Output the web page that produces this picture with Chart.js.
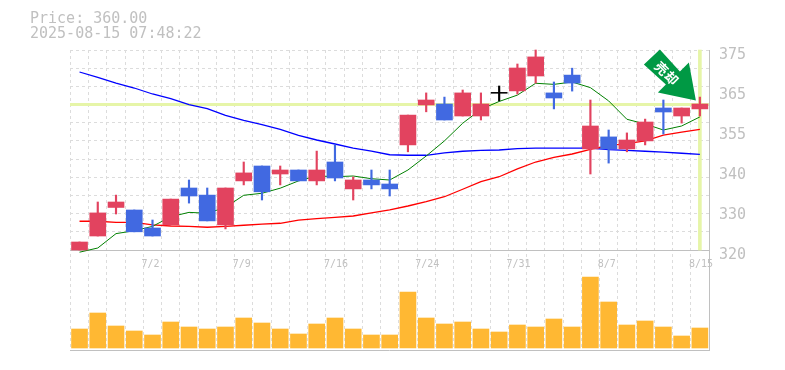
<!DOCTYPE html>
<html>
<head>
<meta charset="utf-8">
<title>Price chart</title>
<script src="https://cdn.jsdelivr.net/npm/chart.js@4/dist/chart.umd.min.js"></script>
<style>
  html, body { margin: 0; padding: 0; background: #fff; }
  #wrap { position: relative; width: 785px; height: 370px; }
  #info { position: absolute; left: 30px; top: 11px; font: 15px/15px "DejaVu Sans Mono", monospace; color: #c0c0c0; white-space: pre; }
</style>
</head>
<body>
<div id="wrap">
  <div id="info">Price: 360.00
2025-08-15 07:48:22</div>
  <canvas id="graph" width="785" height="370"></canvas>
</div>
<script>
const dates = ["6/26","6/27","6/30","7/1","7/2","7/3","7/4","7/7","7/8","7/9","7/10","7/11","7/14","7/15","7/16","7/17","7/18","7/22","7/23","7/24","7/25","7/28","7/29","7/30","7/31","8/1","8/4","8/5","8/6","8/7","8/8","8/12","8/13","8/14","8/15"];
// only these dates are written on the axis
const shownDates = ["7/2","7/9","7/16","7/24","7/31","8/7","8/15"];

const opens  = [320,323.85,331.7,331,326.05,326.9,337.05,335.1,326.9,339,343.1,340.9,342,339,344.2,336.8,339.25,338.15,348.9,359.9,360.15,356.85,356.85,363.1,363.75,367.85,363.2,368.1,347.8,351.1,347.8,350,359.05,356.85,358.8];
const closes = [322.2,330.2,333.2,325,323.85,334,334.85,328,337.05,341.2,336,342,339,342,339.8,339.25,337.9,336.8,357.1,361.25,355.75,363.2,360.15,363.35,370.05,373.1,361.8,365.9,354.1,347.8,350.25,355.2,357.95,359.05,360.15];
const highs  = [322.2,333.2,335.1,331,328.25,334,339.25,337.05,337.05,344.2,343.1,343.1,342,347.2,348.9,340.1,342,342,357.1,363.2,362.05,364,363.2,365.1,371.15,375,366.2,370,361.25,353,352.2,356,361.25,359.05,362.05];
const lows   = [320,323.85,329.9,325,323.85,326.9,332.9,328,325.8,337.9,333.75,337.9,339,337.9,339,333.75,336.8,334.85,347,358,355.75,356.85,355.75,361,362.9,365.9,358.8,363.7,340.9,343.9,347,348.9,351.9,354.9,356.85];
const volumes = [19,35,22,17,13,26,21,19,21,30,25,19,14,24,30,19,13,13,56,30,24,26,19,16,23,21,29,21,71,46,23,27,21,12,20];

const maLong  = [368.95,367.45,365.9,364.55,362.9,361.65,360,358.85,357,355.65,354.5,353.15,351.5,350.25,349.15,348,347.2,346.2,346.05,346.05,346.7,347.15,347.4,347.5,347.9,348,348,348,348,347.6,347.4,347.15,346.9,346.6,346.3];
const maMid   = [327.9,327.9,327.6,327.6,326.9,326.6,326.5,326.25,326.5,326.8,327.1,327.35,328.2,328.65,328.95,329.35,330.2,331.05,332.1,333.3,334.65,336.7,338.8,340.15,342.3,344.2,345.5,346.4,347.7,348.7,349.25,350,351.6,352.4,353.2];
const maShort = [319.4,320.55,324.5,325.3,326.5,329.15,330.35,330.1,331.75,335.05,335.6,337,339,340.4,340.15,340.35,339.6,339.25,342,345.85,350,354.85,358.7,360.85,362.6,365.85,365.55,366.2,364.65,361,355.95,354.65,353,354.1,356.6];

const currentPrice = 360;
const priceTop = 375;
const priceBottom = 320;
// the picture prints rounded numbers next to these evenly spaced positions
const tickValues = [375,364,353,342,331,320];
const tickLabels = ["375","365","355","340","330","320"];

const gridColor = "#dcdcdc";
const axisColor = "#c0c0c0";
const lineYellow = "#e6f5a8";
const upColor = "#e2435f";
const downColor = "#4169e1";
const flatColor = "#000000";

function candleColor(i) {
    if (closes[i] - opens[i] < 0.5 && closes[i] - opens[i] > 0) return flatColor
    return closes[i] >= opens[i] ? upColor : downColor
}

const candleColors = dates.map((d, i) => candleColor(i));
const bodies = dates.map((d, i) => [opens[i], closes[i]]);
const wicks = dates.map((d, i) => [lows[i], highs[i]]);
const cursor = dates.map((d, i) => i == dates.length - 1 ? [priceBottom, priceTop] : null);

// green sign sitting on the last candle, offsets are from the arrow tip
const arrowSign = {
    id: "arrowSign",
    afterDatasetsDraw(chart) {
        const ctx = chart.ctx;
        const tipX = chart.scales.x.getPixelForValue(dates.length - 1) - 4;
        const tipY = chart.scales.y.getPixelForValue(currentPrice) - 4;
        ctx.save();
        ctx.fillStyle = "#009944";
        ctx.beginPath();
        ctx.moveTo(tipX, tipY);
        ctx.lineTo(tipX - 38, tipY - 8);
        ctx.lineTo(tipX - 30, tipY - 16);
        ctx.lineTo(tipX - 52, tipY - 36);
        ctx.lineTo(tipX - 36, tipY - 51);
        ctx.lineTo(tipX - 16, tipY - 29);
        ctx.lineTo(tipX - 7, tipY - 38);
        ctx.closePath();
        ctx.fill();
        ctx.translate(tipX - 29, tipY - 27);
        ctx.rotate(Math.PI / 4);
        ctx.fillStyle = "#ffffff";
        ctx.font = "bold 13px 'Noto Sans CJK JP'";
        ctx.letterSpacing = "1px";
        ctx.textAlign = "center";
        ctx.textBaseline = "middle";
        ctx.fillText("売却", 0, 0);
        ctx.restore();
    }
};

new Chart("graph", {
    data: {
        labels: dates,
        datasets: [
            { type: "bar", data: cursor, backgroundColor: lineYellow, barThickness: 3, grouped: false, yAxisID: "y", order: 9 },
            { type: "bar", data: volumes, backgroundColor: "#ffb833", barThickness: 16, grouped: false, yAxisID: "vol", order: 8 },
            { type: "line", data: maLong, borderColor: "#0000ff", borderWidth: 1.3, pointRadius: 0, tension: 0, yAxisID: "y", order: 7 },
            { type: "line", data: maMid, borderColor: "#ff0000", borderWidth: 1.3, pointRadius: 0, tension: 0, yAxisID: "y", order: 6 },
            { type: "line", data: maShort, borderColor: "#008000", borderWidth: 1, pointRadius: 0, tension: 0, yAxisID: "y", order: 5 },
            { type: "bar", data: wicks, backgroundColor: candleColors, barThickness: 1.5, grouped: false, yAxisID: "y", order: 4 },
            { type: "bar", data: bodies, backgroundColor: candleColors, barThickness: 16, grouped: false, yAxisID: "y", order: 3 }
        ]
    },
    options: {
        responsive: false,
        animation: false,
        events: [],
        layout: { padding: { left: 70.4, right: 0, top: 50, bottom: 20 } },
        plugins: { legend: { display: false }, tooltip: { enabled: false } },
        clip: false,
        scales: {
            x: {
                type: "category",
                offset: true,
                position: { y: priceBottom },
                grid: { offset: true, color: gridColor, lineWidth: 1, drawTicks: false },
                border: { color: axisColor, dash: [3, 3], display: true },
                ticks: {
                    autoSkip: false,
                    maxRotation: 0,
                    align: "start",
                    labelOffset: -11,
                    padding: 8,
                    color: axisColor,
                    font: { family: "'DejaVu Sans Mono', monospace", size: 10 },
                    callback(value) {
                        const d = this.getLabelForValue(value);
                        return shownDates.includes(d) ? d : "";
                    }
                }
            },
            y: {
                position: "left",
                min: 292.5,
                max: priceTop,
                afterFit(scale) { scale.width = 0; },
                afterBuildTicks(scale) {
                    scale.ticks = [];
                    for (let v = priceBottom + 5; v <= priceTop; v += 5) scale.ticks.push({ value: v });
                },
                grid: {
                    drawTicks: false,
                    lineWidth: ctx => ctx.tick.value == currentPrice ? 3 : 1,
                    color: ctx => ctx.tick.value == currentPrice ? lineYellow : gridColor
                },
                border: { display: false, dash: ctx => ctx.tick.value == currentPrice ? [] : [3, 3] },
                ticks: { display: false }
            },
            yLabels: {
                position: "right",
                min: 292.5,
                max: priceTop,
                afterFit(scale) { scale.width = 76; },
                afterBuildTicks(scale) { scale.ticks = tickValues.map(v => ({ value: v })); },
                grid: { display: false },
                border: { display: true, color: axisColor, width: 1 },
                ticks: {
                    padding: 2,
                    labelOffset: 5,
                    color: axisColor,
                    font: { family: "'DejaVu Sans Mono', monospace", size: 15 },
                    callback(value) { return tickLabels[tickValues.indexOf(value)]; }
                }
            },
            vol: {
                position: "left",
                min: -2,
                max: 298,
                afterFit(scale) { scale.width = 0; },
                afterBuildTicks(scale) { scale.ticks = [{ value: -2 }]; },
                grid: { drawTicks: false, color: axisColor, lineWidth: 1 },
                border: { display: false },
                ticks: { display: false }
            }
        }
    },
    plugins: [arrowSign]
});
</script>
</body>
</html>
